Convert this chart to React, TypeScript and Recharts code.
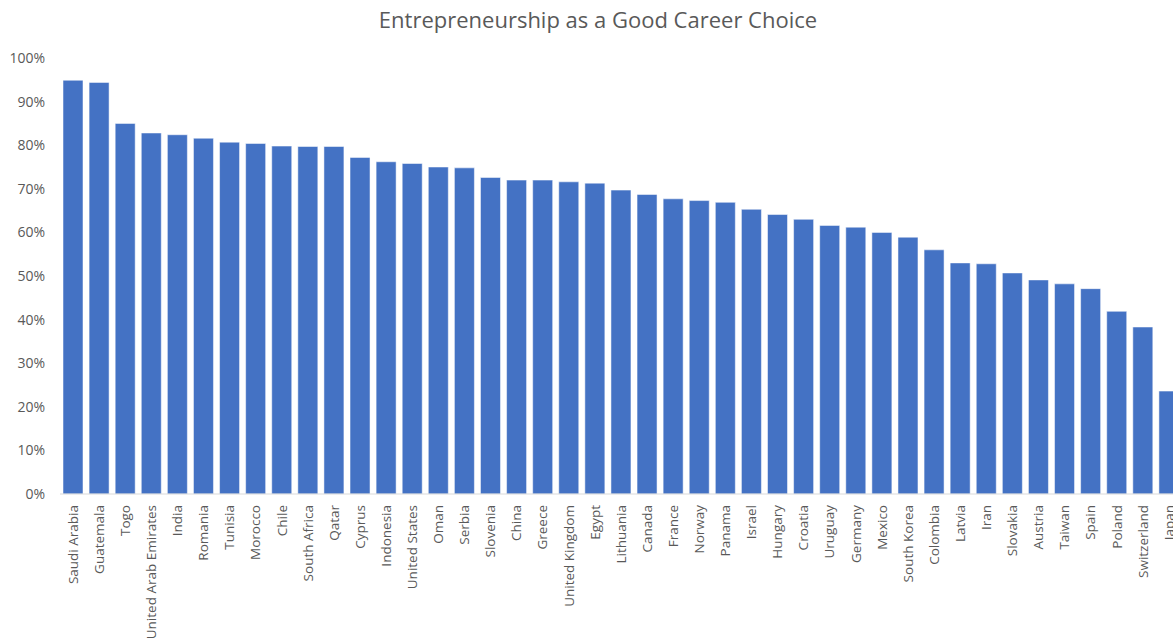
import { BarChart, Bar, XAxis, YAxis } from 'recharts';

const countries = [
  'Saudi Arabia', 'Guatemala', 'Togo', 'United Arab Emirates', 'India', 'Romania', 'Tunisia', 'Morocco',
  'Chile', 'South Africa', 'Qatar', 'Cyprus', 'Indonesia', 'United States', 'Oman', 'Serbia', 'Slovenia',
  'China', 'Greece', 'United Kingdom', 'Egypt', 'Lithuania', 'Canada', 'France', 'Norway', 'Panama',
  'Israel', 'Hungary', 'Croatia', 'Uruguay', 'Germany', 'Mexico', 'South Korea', 'Colombia', 'Latvia',
  'Iran', 'Slovakia', 'Austria', 'Taiwan', 'Spain', 'Poland', 'Switzerland', 'Japan',
];

const goodCareer = [
  94.9, 94.4, 85.0, 82.8, 82.4, 81.6, 80.7, 80.4,
  79.8, 79.7, 79.7, 77.2, 76.2, 75.8, 75.0, 74.8, 72.6,
  72.0, 72.0, 71.6, 71.3, 69.7, 68.7, 67.7, 67.3, 66.9,
  65.3, 64.1, 63.0, 61.6, 61.2, 60.0, 58.9, 56.0, 53.0,
  52.8, 50.7, 49.1, 48.2, 47.1, 41.9, 38.3, 23.6,
];

const yTicks = [0, 10, 20, 30, 40, 50, 60, 70, 80, 90, 100];

const data = countries.map((c, i) => ({ country: c, value: goodCareer[i] }));

const FONT = '"Open Sans", "Noto Sans", sans-serif';
const GREY = '#595959';

function CountryTick(props: any) {
  const { x, y, payload } = props;
  return (
    <text
      x={0}
      y={0}
      dy="0.35em"
      textAnchor="end"
      fill={GREY}
      fontSize={13.5}
      fontFamily={FONT}
      transform={`translate(${x},${y + 3}) rotate(-90)`}
    >
      {payload.value}
    </text>
  );
}

export default function App() {
  return (
    <div style={{ position: 'fixed', left: 0, top: 0, width: 1173, height: 643, overflow: 'hidden', background: '#fff' }}>
      <div
        style={{
          position: 'absolute', left: 0, width: 1196, top: 4, textAlign: 'center',
          fontFamily: FONT, fontSize: 22, color: GREY,
        }}
      >
        Entrepreneurship as a Good Career Choice
      </div>
      <BarChart
        width={1200}
        height={643}
        data={data}
        margin={{ top: 58, right: 18, bottom: 9, left: 0 }}
        barSize={20}
      >
        <XAxis
          dataKey="country"
          interval={0}
          height={140}
          tick={<CountryTick />}
          tickLine={false}
          axisLine={{ stroke: '#d9d9d9' }}
        />
        <YAxis
          domain={[0, 100]}
          ticks={yTicks}
          width={60}
          axisLine={false}
          tickLine={false}
          tickMargin={9}
          tickFormatter={(v: number) => `${v}%`}
          tick={{ fill: GREY, fontSize: 14, fontFamily: FONT }}
        />
        <Bar dataKey="value" fill="#4472c4" stroke="#ffffff" strokeOpacity={0.5} isAnimationActive={false} />
      </BarChart>
    </div>
  );
}
